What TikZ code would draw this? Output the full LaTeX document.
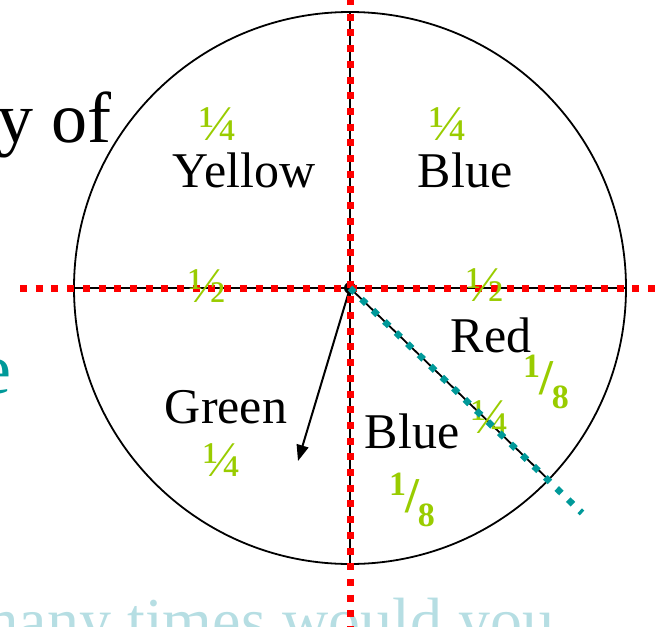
\documentclass[tikz,border=0pt]{standalone}
\usepackage{fontspec}
\setmainfont{Liberation Serif}
\usepackage{xcolor}
\usepackage{tikz}
\usetikzlibrary{arrows.meta,positioning}
\definecolor{SpinGreen}{HTML}{99CC00}
\definecolor{SpinTeal}{HTML}{009999}
\definecolor{SpinRed}{HTML}{FF0000}
\definecolor{SlideMist}{HTML}{B6DEE3}
\newcommand{\eighth}{\textbf{\fontsize{34}{34}\selectfont\raisebox{17pt}{1}\kern-1pt\fontsize{50}{50}\selectfont/\kern-1pt\fontsize{34}{34}\selectfont\raisebox{-14pt}{8}}}

\begin{document}
\begin{tikzpicture}[x=1pt,y=-1pt,>=Latex]
  \tikzset{slide/.style={font=\fontsize{72}{74}\selectfont,inner sep=0pt},
    colour/.style={font=\fontsize{50}{52}\selectfont,inner sep=0pt,anchor=base},
    part/.style={text=SpinGreen,font=\fontsize{50}{52}\selectfont,inner sep=0pt},
    rim/.style={black,line width=1.8pt},
    cut/.style={SpinRed,line width=7pt,dash pattern=on 7pt off 8.7pt},
    tealcut/.style={SpinTeal,line width=6.5pt,dash pattern=on 6.5pt off 9.5pt},
    spinner/.style={-{Triangle[length=16pt,width=12pt]},line width=2pt}}
  \useasboundingbox (0,0) rectangle (662,627);
  \clip (0,0) rectangle (662,627);
  % slide text cut off by the crop
  \node[slide,anchor=base west] (ofline) at (-3,142) {y of};
  \node[slide,anchor=base east,text=SpinTeal] (eline) at (12,393) {e};
  \node[slide,anchor=base west,text=SlideMist,font=\fontsize{64}{66}\selectfont] (howmany) at (-31,642) {many times would you};
  % the spinner
  \node[draw,circle,line width=1.8pt,minimum size=552pt,inner sep=0pt,outer sep=0pt] (wheel) at (350,288) {};
  \draw[rim] (wheel.west) -- (wheel.east);
  \draw[rim] (wheel.north) -- (wheel.south);
  \draw[rim] (wheel.center) -- (wheel.-44);
  \coordinate (pointer) at (298,461);
  \draw[spinner] (wheel.center) -- (pointer);
  \node[fill,circle,minimum size=12pt,inner sep=0pt] (hub) at (wheel.center) {};
  \node[colour] (yellow) at (244,187) {Yellow};
  \node[colour] (bluetop) at (465,187) {Blue};
  \node[colour] (red) at (491,352) {Red};
  \node[colour] (bluelow) at (412,448) {Blue};
  \node[colour] (green) at (226,423) {Green};
  % dotted cuts
  \coordinate (redw) at (20,288);
  \coordinate (rede) at (664,288);
  \coordinate (redn) at (350,-2);
  \coordinate (reds) at (350,630);
  \draw[cut] (redw) -- (rede);
  \draw[cut] (redn) -- (reds);
  % fractions
  \node[part] (qyellow) at (218,124) {¼};
  \node[part] (qbluetop) at (448,124) {¼};
  \node[part] (hwest) at (207,286) {½};
  \node[part] (heast) at (485,285) {½};
  \node[part] (qcut) at (490,417) {¼};
  \node[part] (qgreen) at (222,460) {¼};
  \node[part] (ered) at (546,382) {\eighth};
  \node[part] (eblue) at (412,500) {\eighth};
  \coordinate (tealtip) at (582,513);
  \draw[tealcut] (hub.center) -- (tealtip);
\end{tikzpicture}
\end{document}
